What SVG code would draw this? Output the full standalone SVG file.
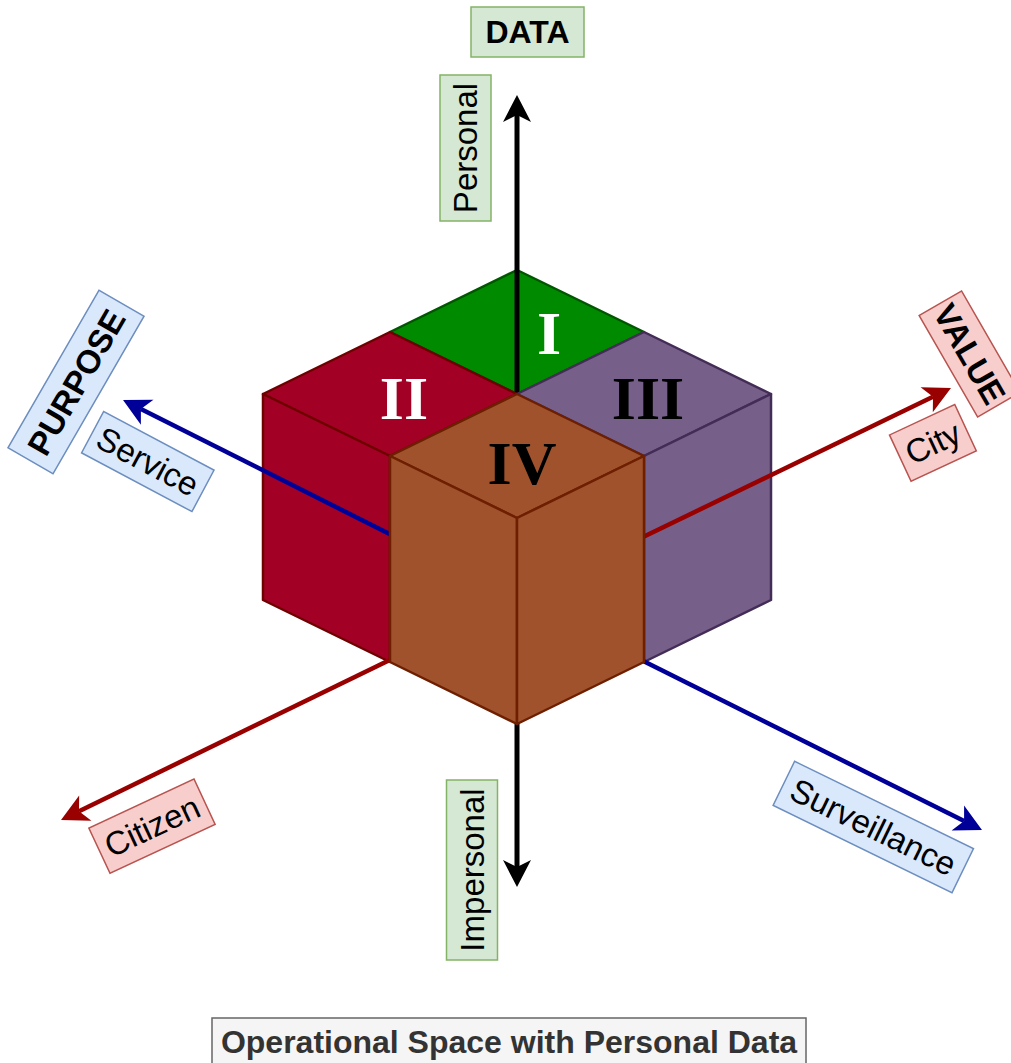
<svg xmlns="http://www.w3.org/2000/svg" width="1011" height="1063" viewBox="0 0 1011 1063">
  <style>
    .lbl { font-family: "Liberation Sans", Arial, sans-serif; font-size: 33px; fill: #000; text-anchor: middle; }
    .bold { font-weight: bold; }
    .num { font-family: "Liberation Serif", "Times New Roman", serif; font-weight: bold; font-size: 62px; text-anchor: middle; }
    .g-box { fill: #d5e8d4; stroke: #82b366; stroke-width: 1.5; }
    .b-box { fill: #dae8fc; stroke: #6c8ebf; stroke-width: 1.5; }
    .r-box { fill: #f8cecc; stroke: #b85450; stroke-width: 1.5; }
    .face { stroke-width: 2.5; stroke-linejoin: round; }
    .ax-k { stroke: #000; stroke-width: 5; fill: none; }
    .ax-b { stroke: #000099; stroke-width: 4.5; fill: none; }
    .ax-r { stroke: #990000; stroke-width: 4.5; fill: none; }
  </style>
  <defs>
    <marker id="arr-k" markerUnits="userSpaceOnUse" markerWidth="40" markerHeight="40" viewBox="-10 -20 40 40" refX="0" refY="0" orient="auto" overflow="visible">
      <path d="M20,0 L-7,-14 L0,0 L-7,14 Z" fill="#000"/>
    </marker>
    <marker id="arr-b" markerUnits="userSpaceOnUse" markerWidth="40" markerHeight="40" viewBox="-10 -20 40 40" refX="0" refY="0" orient="auto" overflow="visible">
      <path d="M20,0 L-7,-14 L0,0 L-7,14 Z" fill="#000099"/>
    </marker>
    <marker id="arr-r" markerUnits="userSpaceOnUse" markerWidth="40" markerHeight="40" viewBox="-10 -20 40 40" refX="0" refY="0" orient="auto" overflow="visible">
      <path d="M20,0 L-7,-14 L0,0 L-7,14 Z" fill="#990000"/>
    </marker>
  </defs>

  <rect width="1011" height="1063" fill="#fff"/>

  <!-- cube I: only its top face shows -->
  <g id="cube-I">
    <polygon class="face" points="517,270 644,332 517,394 390,332" fill="#008a00" stroke="#005700"/>
  </g>

  <!-- upper half of the DATA axis runs over cube I -->
  <g id="axis-data-up">
    <line class="ax-k" x1="517" y1="598" x2="517" y2="115" marker-end="url(#arr-k)"/>
  </g>

  <g id="cube-II">
    <polygon class="face" points="263,394 390,332 517,394 390,456" fill="#a20025" stroke="#6f0000"/>
    <polygon class="face" points="263,394 390,456 390,662 263,600" fill="#a20025" stroke="#6f0000"/>
  </g>

  <g id="cube-III">
    <polygon class="face" points="517,394 644,332 771,394 644,456" fill="#76608a" stroke="#432d57"/>
    <polygon class="face" points="644,456 771,394 771,600 644,662" fill="#76608a" stroke="#432d57"/>
  </g>

  <!-- axes through the centre of the block -->
  <g id="connectors">
    <line class="ax-b" x1="517" y1="598" x2="140.9" y2="409" marker-end="url(#arr-b)"/>
    <line class="ax-b" x1="517" y1="598" x2="964.1" y2="821.1" marker-end="url(#arr-b)"/>
    <line class="ax-r" x1="517" y1="598" x2="933" y2="396.7" marker-end="url(#arr-r)"/>
    <line class="ax-r" x1="517" y1="598" x2="79" y2="811.2" marker-end="url(#arr-r)"/>
    <line class="ax-k" x1="517" y1="598" x2="517" y2="867" marker-end="url(#arr-k)"/>
  </g>

  <g id="cube-IV">
    <polygon class="face" points="517,394 644,456 517,518 390,456" fill="#a0522d" stroke="#6d1f00"/>
    <polygon class="face" points="390,456 517,518 517,724 390,662" fill="#a0522d" stroke="#6d1f00"/>
    <polygon class="face" points="517,518 644,456 644,662 517,724" fill="#a0522d" stroke="#6d1f00"/>
  </g>

  <!-- quadrant numerals -->
  <g id="numerals">
    <text class="num" x="549" y="354" fill="#fff">I</text>
    <text class="num" x="404" y="419" fill="#fff">II</text>
    <text class="num" x="648" y="419" fill="#000">III</text>
    <text class="num" x="522" y="484" fill="#000">IV</text>
  </g>

  <!-- axis labels -->
  <g id="label-data">
    <rect class="g-box" x="471" y="7" width="113" height="50"/>
    <text class="lbl bold" x="527.5" y="43" style="font-size:32px">DATA</text>
  </g>
  <g id="label-personal" transform="translate(465.5,148) rotate(-90)">
    <rect class="g-box" x="-73" y="-25.5" width="146" height="51"/>
    <text class="lbl" x="0" y="11.5">Personal</text>
  </g>
  <g id="label-impersonal" transform="translate(472,870) rotate(-90)">
    <rect class="g-box" x="-90" y="-25.5" width="180" height="51"/>
    <text class="lbl" x="0" y="11.5">Impersonal</text>
  </g>
  <g id="label-purpose" transform="translate(76,382) rotate(-60)">
    <rect class="b-box" x="-91" y="-26" width="182" height="52"/>
    <text class="lbl bold" x="0" y="12">PURPOSE</text>
  </g>
  <g id="label-service" transform="translate(147.8,461.5) rotate(28)">
    <rect class="b-box" x="-62.5" y="-23.5" width="125" height="47"/>
    <text class="lbl" x="0" y="11.5">Service</text>
  </g>
  <g id="label-surveillance" transform="translate(873.3,827) rotate(26)">
    <rect class="b-box" x="-99.5" y="-24.5" width="199" height="49"/>
    <text class="lbl" x="0" y="11.5">Surveillance</text>
  </g>
  <g id="label-value" transform="translate(969.6,354) rotate(60)">
    <rect class="r-box" x="-58.5" y="-24.5" width="117" height="49"/>
    <text class="lbl bold" x="0" y="11.5">VALUE</text>
  </g>
  <g id="label-city" transform="translate(932.9,442.9) rotate(-25)">
    <rect class="r-box" x="-36" y="-25.5" width="72" height="51"/>
    <text class="lbl" x="0" y="11.5">City</text>
  </g>
  <g id="label-citizen" transform="translate(152,826.2) rotate(-25)">
    <rect class="r-box" x="-58" y="-25" width="116" height="50"/>
    <text class="lbl" x="0" y="11.5">Citizen</text>
  </g>

  <!-- caption -->
  <g id="caption">
    <rect x="212" y="1018" width="594" height="52" fill="#f5f5f5" stroke="#666666" stroke-width="1.5"/>
    <text class="lbl bold" x="509" y="1053" style="font-size:32px;fill:#333333">Operational Space with Personal Data</text>
  </g>
</svg>
